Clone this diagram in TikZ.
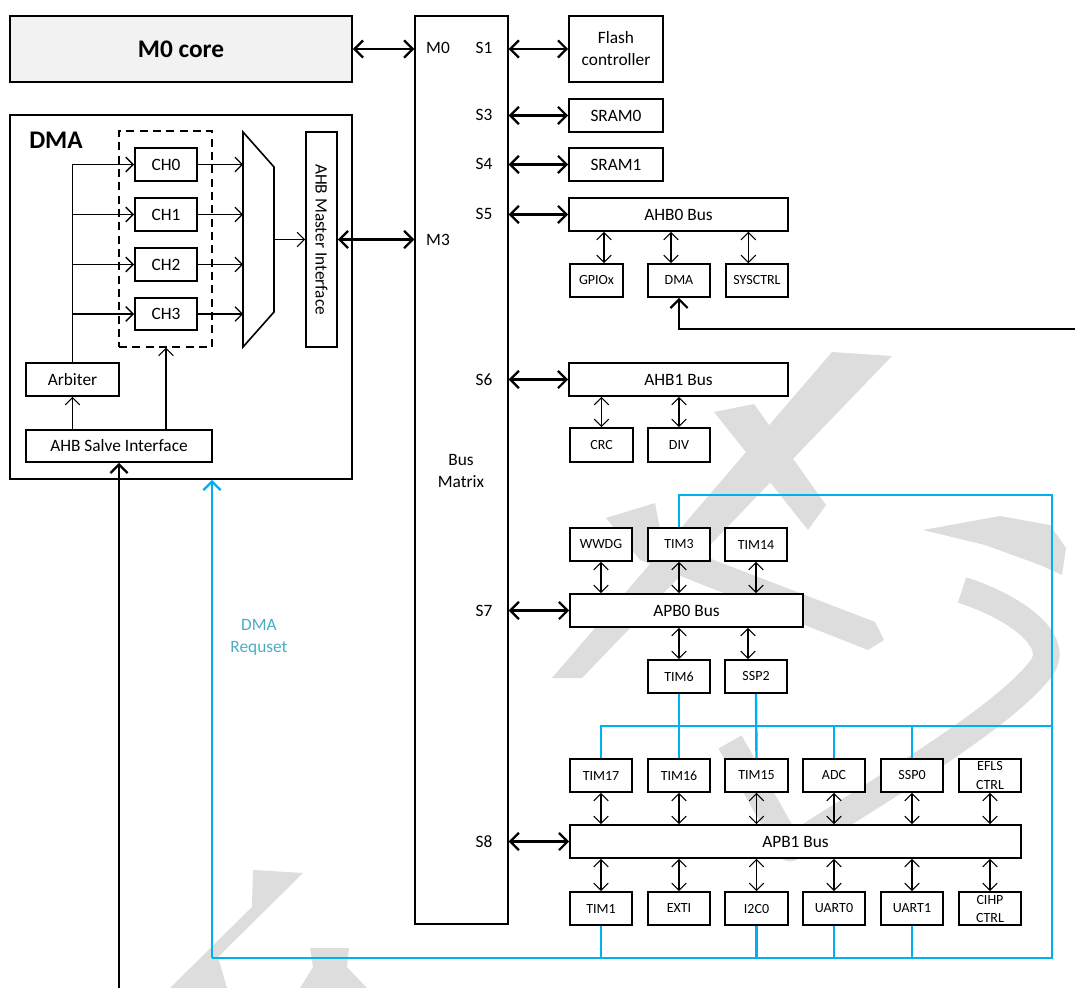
\documentclass[tikz,border=0pt]{standalone}
\usepackage{fontspec}
\setmainfont{Carlito}
\usetikzlibrary{arrows.meta,calc}
\definecolor{cyanb}{HTML}{00B0F0}
\definecolor{reqc}{HTML}{4BACC6}
\definecolor{wm}{HTML}{DDDDDD}
\definecolor{corefill}{HTML}{F2F2F2}
\newcommand{\fmed}{\fontsize{13}{16.5}\selectfont}
\newcommand{\fsml}{\fontsize{10.5}{13.5}\selectfont}
\newcommand{\fbig}{\fontsize{19}{22}\selectfont\bfseries}
\tikzset{
  hb/.tip={Straight Barb[length=6.5pt,width=13pt]},
  hs/.tip={Straight Barb[length=5.5pt,width=11pt]},
  box/.style={draw, fill=white, line width=1.2pt, inner sep=0pt, font=\fmed, align=center},
  sbox/.style={box, font=\fsml},
  thinbox/.style={draw, fill=white, line width=0.9pt, inner sep=0pt},
  lbl/.style={inner sep=0pt, font=\fmed, align=center},
  bigarr/.style={line width=1.7pt, hb-hb},
  smarr/.style={line width=0.8pt, hs-hs},
  onearr/.style={line width=0.8pt, -hs},
  arbl/.style={line width=1.2pt},
  bl/.style={draw=cyanb, line width=1.8pt},
}
% box from (x1,y1) to (x2,y2) in pixel units
\newcommand{\bx}[7][box]{%
  \pgfmathsetmacro\bxw{(#5-#3)*0.75}%
  \pgfmathsetmacro\bxh{(#6-#4)*0.75}%
  \node[#1, minimum width=\bxw pt, minimum height=\bxh pt] (#2) at ({(#3+#5)/2},{(#4+#6)/2}) {#7};}
\begin{document}
\begin{tikzpicture}[x=0.75pt,y=-0.75pt]
\useasboundingbox (0,0) rectangle (1075,988);

% ---------- watermark ----------
\fill[wm] (832,352) -- (892,356) -- (582,678) -- (552,678) -- cycle;
\fill[wm] (714,412) -- (754,404) -- (826,505) -- (808,530) -- cycle;
\fill[wm] (606,518) -- (655,503) -- (662,540) -- (875,622) -- (884,640) -- (868,650) -- (640,560) -- cycle;
\draw[wm, line width=20pt, line join=round] (730,742) -- (790,848) .. controls (880,790) and (1000,720) .. (1040,670) .. controls (1065,640) and (1010,605) .. (962,590);
\fill[wm] (923,530) -- (1000,516) -- (1050,525) -- (1066,548) -- (1062,575) -- (1040,565) -- (985,545) -- cycle;
\fill[wm] (253,870) -- (303,873) -- (218,957) -- (227,988) -- (170,988) -- (252,907) -- cycle;
\fill[wm] (310,948) -- (349,948) -- (347,967) -- (367,988) -- (300,988) -- (313,967) -- cycle;

% ---------- left side ----------
\bx[box, fill=corefill]{core}{10}{16}{352}{82}{\fbig M0 core}
\bx{dma}{10}{115}{352}{479}{}
\node[lbl, anchor=west, font=\fbig] (dmalbl) at (29,140) {DMA};
\bx[draw, dashed, dash pattern=on 6pt off 4pt, line width=1pt, inner sep=0pt]{chgrp}{119}{131}{212}{347}{}
\bx{ch0}{135}{148}{197}{181}{CH0}
\bx{ch1}{135}{198}{197}{231}{CH1}
\bx{ch2}{135}{248}{197}{281}{CH2}
\bx{ch3}{135}{298}{197}{330}{CH3}
\bx{arb}{26}{363}{119}{396}{Arbiter}
\bx{salve}{26}{430}{212}{462}{AHB Salve Interface}
\coordinate (mux1) at (243,132);
\coordinate (mux2) at (274,167);
\coordinate (mux3) at (274,312);
\coordinate (mux4) at (243,347);
\draw[line width=1.2pt, line join=miter] (mux1) -- (mux2) -- (mux3) -- (mux4) -- cycle;
\bx{ahbm}{306}{132}{337}{347}{}
\node[lbl, rotate=-90] (ahbmtxt) at (ahbm.center) {AHB Master Interface};

% arbiter and channels
\draw[arbl] (arb.north) -- (arb.north |- ch0.west);
\foreach \c in {ch0,ch1,ch2,ch3}{
  \draw[line width=1.1pt, -hs] (arb.north |- \c.west) -- (\c.west);
  \draw[onearr] (\c.east) -- (\c.east -| mux1);
}
\draw[onearr] (salve.north -| arb.north) -- (arb.south);
\coordinate (sv2) at (166,430);
\draw[onearr] (sv2) -- (sv2 |- chgrp.south);
\coordinate (muxout) at (274,239.5);
\draw[onearr] (muxout) -- (ahbm.west);

% ---------- bus matrix ----------
\bx[thinbox]{bm}{415}{16}{508}{924}{}
\node[lbl] (lm0) at (438,48) {M0};
\node[lbl] (lm3) at (438,240) {M3};
\node[lbl] (ls1) at (484,48) {S1};
\node[lbl] (ls3) at (484,115) {S3};
\node[lbl] (ls4) at (484,164) {S4};
\node[lbl] (ls5) at (484,214) {S5};
\node[lbl] (ls6) at (484,380) {S6};
\node[lbl] (ls7) at (484,611) {S7};
\node[lbl] (ls8) at (484,842) {S8};
\node[lbl] (bmtxt) at (461,471) {Bus\\Matrix};

% ---------- slaves ----------
\bx{flash}{569}{16}{663}{82}{Flash\\controller}
\bx{sram0}{569}{99}{663}{132}{SRAM0}
\bx{sram1}{569}{148}{663}{181}{SRAM1}
\bx{ahb0}{569}{198}{788}{231}{AHB0 Bus}
\bx[sbox]{gpiox}{570}{264}{623}{297}{GPIOx}
\bx[sbox]{dmap}{648}{264}{710}{297}{DMA}
\bx[sbox]{sysctrl}{726}{264}{788}{297}{SYSCTRL}
\bx{ahb1}{569}{363}{788}{396}{AHB1 Bus}
\bx[sbox]{crc}{570}{428}{633}{462}{CRC}
\bx[sbox]{div}{648}{428}{710}{462}{DIV}

\bx[sbox]{wwdg}{570}{528}{632}{561}{WWDG}
\bx[sbox]{tim3}{648}{528}{710}{561}{TIM3}
\bx[sbox]{tim14}{725}{528}{787}{561}{TIM14}
\bx{apb0}{570}{594}{803}{627}{APB0 Bus}
\bx[sbox]{tim6}{648}{660}{710}{693}{TIM6}
\bx[sbox]{ssp2}{725}{660}{787}{693}{SSP2}

\bx[sbox]{tim17}{570}{759}{632}{792}{TIM17}
\bx[sbox]{tim16}{648}{759}{710}{792}{TIM16}
\bx[sbox]{tim15}{725}{759}{788}{792}{TIM15}
\bx[sbox]{adc}{803}{759}{865}{792}{ADC}
\bx[sbox]{ssp0}{881}{759}{943}{792}{SSP0}
\bx[sbox]{efls}{959}{759}{1021}{792}{EFLS\\CTRL}
\bx{apb1}{570}{825}{1021}{858}{APB1 Bus}
\bx[sbox]{tim1}{570}{892}{632}{925}{TIM1}
\bx[sbox]{exti}{648}{892}{710}{925}{EXTI}
\bx[sbox]{i2c0}{725}{892}{788}{925}{I2C0}
\bx[sbox]{uart0}{803}{892}{865}{925}{UART0}
\bx[sbox]{uart1}{881}{892}{943}{925}{UART1}
\bx[sbox]{cihp}{959}{892}{1021}{925}{CIHP\\CTRL}

% ---------- bus matrix connections ----------
\draw[bigarr] (core.east) -- (core.east -| bm.west);
\draw[bigarr] (ahbm.east) -- (ahbm.east -| bm.west);
\foreach \n in {flash,sram0,sram1,ahb0,ahb1,apb0,apb1}{
  \draw[bigarr] (\n.west -| bm.east) -- (\n.west);
}

% ---------- peripheral connections ----------
\draw[smarr] ([xshift=5.6pt]gpiox.north) -- ([xshift=5.6pt]gpiox.north |- ahb0.south);
\draw[smarr] ([xshift=-6pt]dmap.north) -- ([xshift=-6pt]dmap.north |- ahb0.south);
\draw[smarr] ([xshift=-6.5pt]sysctrl.north) -- ([xshift=-6.5pt]sysctrl.north |- ahb0.south);
\draw[smarr] (crc.north) -- (crc.north |- ahb1.south);
\draw[smarr] (div.north) -- (div.north |- ahb1.south);
\foreach \n in {wwdg,tim3,tim14}{
  \draw[smarr] (\n.south) -- (\n.south |- apb0.north);
}
\draw[smarr] (tim6.north) -- (tim6.north |- apb0.south);
\draw[smarr] ([xshift=-6pt]ssp2.north) -- ([xshift=-6pt]ssp2.north |- apb0.south);
\foreach \n in {tim17,tim16,tim15,adc,ssp0,efls}{
  \draw[smarr] (\n.south) -- (\n.south |- apb1.north);
}
\foreach \n in {tim1,exti,i2c0,uart0,uart1,cihp}{
  \draw[smarr] (\n.north) -- (\n.north |- apb1.south);
}

% ---------- external black lines ----------
\coordinate (edgeR) at (1075,329);
\coordinate (edgeB) at (119,988);
\draw[line width=1.7pt, -hb] (edgeR) -- (edgeR -| dmap.south) -- (dmap.south);
\draw[line width=1.7pt, -hb] (edgeB) -- (salve.south);

% ---------- DMA request (blue) ----------
\coordinate (bTR) at (1052,495);
\coordinate (bMR) at (1052,726);
\coordinate (bBR) at (1052,958);
\coordinate (bBL) at (212,958);
\draw[bl] (tim3.north) |- (bTR) -- (bBR) -- (bBL);
\draw[bl] (tim17.north) |- (bMR);
\draw[bl] (tim6.south) -- (tim16.north);
\draw[bl] (ssp2.south) -- (tim15.north);
\draw[bl] (adc.north) -- (adc.north |- bMR);
\draw[bl] (ssp0.north) -- (ssp0.north |- bMR);
\foreach \n in {tim1,i2c0,uart0,uart1}{
  \draw[bl] (\n.south) -- (\n.south |- bBR);
}
\draw[bl, -hb] (bBL) -- (bBL |- dma.south);
\node[lbl, text=reqc] (reqlbl) at (259,637) {DMA\\Requset};
\end{tikzpicture}
\end{document}
